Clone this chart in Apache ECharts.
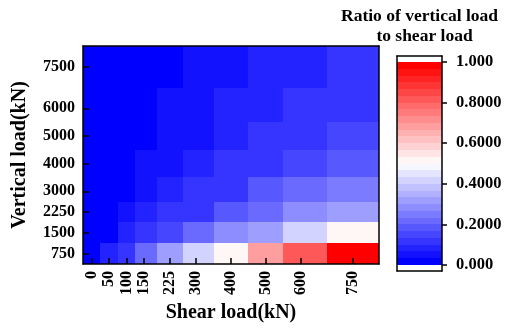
<!DOCTYPE html>
<html>
<head>
<meta charset="utf-8">
<script src="https://cdn.jsdelivr.net/npm/echarts@6/dist/echarts.min.js"></script>
<style>
html,body{margin:0;padding:0;background:#fff;}
#chart{width:514px;height:328px;}
</style>
</head>
<body>
<div id="chart"></div>
<script>
// ---- data ----
const shearLoads = [0, 50, 100, 150, 225, 300, 400, 500, 600, 750];
const verticalLoads = [750, 1500, 2250, 3000, 4000, 5000, 6000, 7500];
// one row per vertical load (bottom to top), one value per shear load
const ratio750  = [0.000, 0.067, 0.133, 0.200, 0.300, 0.400, 0.533, 0.667, 0.800, 1.000];
const ratio1500 = [0.000, 0.033, 0.067, 0.100, 0.150, 0.200, 0.267, 0.333, 0.400, 0.500];
const ratio2250 = [0.000, 0.022, 0.044, 0.067, 0.100, 0.133, 0.178, 0.222, 0.267, 0.333];
const ratio3000 = [0.000, 0.017, 0.033, 0.050, 0.075, 0.100, 0.133, 0.167, 0.200, 0.250];
const ratio4000 = [0.000, 0.013, 0.025, 0.038, 0.056, 0.075, 0.100, 0.125, 0.150, 0.188];
const ratio5000 = [0.000, 0.010, 0.020, 0.030, 0.045, 0.060, 0.080, 0.100, 0.120, 0.150];
const ratio6000 = [0.000, 0.008, 0.017, 0.025, 0.038, 0.050, 0.067, 0.083, 0.100, 0.125];
const ratio7500 = [0.000, 0.007, 0.013, 0.020, 0.030, 0.040, 0.053, 0.067, 0.080, 0.100];
const ratioRows = [ratio750, ratio1500, ratio2250, ratio3000, ratio4000, ratio5000, ratio6000, ratio7500];
const xTickLabels = ['0', '50', '100', '150', '225', '300', '400', '500', '600', '750'];
const yTickLabels = ['750', '1500', '2250', '3000', '4000', '5000', '6000', '7500'];
const colorbarTicks = [0, 0.2, 0.4, 0.6, 0.8, 1.0];
const colorbarLabels = ['0.000', '0.2000', '0.4000', '0.6000', '0.8000', '1.000'];
const levelCount = 30;

// ---- helpers ----
function edges(c) {
  const e = [c[0] - (c[1] - c[0]) / 2];
  for (let i = 0; i < c.length - 1; i++) e.push((c[i] + c[i + 1]) / 2);
  e.push(c[c.length - 1] + (c[c.length - 1] - c[c.length - 2]) / 2);
  return e;
}
function labelFor(values, labels) {
  return function (v) {
    for (let k = 0; k < values.length; k++) if (Math.abs(values[k] - v) < 1e-6) return labels[k];
    return '';
  };
}
const palette = [];
for (let i = 0; i < levelCount; i++) {
  const t = i / (levelCount - 1);
  let r, g, b;
  if (t <= 0.5) { const c = Math.round(510 * t); r = c; g = c; b = 255; }
  else { const c = Math.round(510 * (1 - t)); r = 255; g = c; b = c; }
  palette.push('rgb(' + r + ',' + g + ',' + b + ')');
}
function colorFor(v) {
  const idx = Math.max(0, Math.min(levelCount - 1, Math.floor(v * levelCount + 1e-9)));
  return palette[idx];
}
const xe = edges(shearLoads);
const ye = edges(verticalLoads);
const cells = [];
for (let j = 0; j < verticalLoads.length; j++) {
  for (let i = 0; i < shearLoads.length; i++) {
    cells.push([xe[i], xe[i + 1], ye[j], ye[j + 1], ratioRows[j][i]]);
  }
}
const bands = [];
for (let i = 0; i < levelCount; i++) bands.push([0, 1, i / levelCount, (i + 1) / levelCount, (i + 0.5) / levelCount]);

const FONT = '"Liberation Serif", "Times New Roman", serif';
const black = '#000';
function rectItem(params, api) {
  const p0 = api.coord([api.value(0), api.value(3)]);
  const p1 = api.coord([api.value(1), api.value(2)]);
  const x0 = Math.round(p0[0]), y0 = Math.round(p0[1]);
  const x1 = Math.round(p1[0]), y1 = Math.round(p1[1]);
  return {
    type: 'rect',
    shape: { x: x0, y: y0, width: x1 - x0, height: y1 - y0 },
    style: { fill: colorFor(api.value(4)) }
  };
}
const lineOnly = {
  axisLine: { show: true, onZero: false, lineStyle: { color: black, width: 1.5 } },
  axisTick: { show: false }, axisLabel: { show: false }, splitLine: { show: false }, z: 5
};
const cbMargin = 6 / 203;

const chart = echarts.init(document.getElementById('chart'), null, { renderer: 'canvas' });
chart.setOption({
  animation: false,
  backgroundColor: '#fff',
  grid: [
    { left: 83, top: 46, width: 296, height: 225 },
    { left: 397, top: 56, width: 45, height: 215 }
  ],
  xAxis: [
    {
      gridIndex: 0, type: 'value', min: xe[0], max: xe[xe.length - 1], position: 'bottom', z: 5,
      axisLine: { show: true, onZero: false, lineStyle: { color: black, width: 1.5 } },
      axisTick: { show: true, inside: true, length: 6, customValues: shearLoads, lineStyle: { color: black, width: 1.5 } },
      axisLabel: { customValues: shearLoads, formatter: labelFor(shearLoads, xTickLabels), rotate: 90, margin: 7, fontSize: 16, fontWeight: 'bold', fontFamily: FONT, color: black },
      splitLine: { show: false },
      name: 'Shear load(kN)', nameLocation: 'middle', nameGap: 39,
      nameTextStyle: { fontSize: 20, fontWeight: 'bold', fontFamily: FONT, color: black }
    },
    Object.assign({ gridIndex: 0, type: 'value', min: xe[0], max: xe[xe.length - 1], position: 'top' }, lineOnly),
    Object.assign({ gridIndex: 1, type: 'value', min: 0, max: 1, position: 'bottom' }, lineOnly),
    Object.assign({ gridIndex: 1, type: 'value', min: 0, max: 1, position: 'top' }, lineOnly)
  ],
  yAxis: [
    {
      gridIndex: 0, type: 'value', min: ye[0], max: ye[ye.length - 1], position: 'left', z: 5,
      axisLine: { show: true, onZero: false, lineStyle: { color: black, width: 1.5 } },
      axisTick: { show: true, inside: true, length: 6, customValues: verticalLoads, lineStyle: { color: black, width: 1.5 } },
      axisLabel: { customValues: verticalLoads, formatter: labelFor(verticalLoads, yTickLabels), margin: 8, fontSize: 16, fontWeight: 'bold', fontFamily: FONT, color: black },
      splitLine: { show: false },
      name: 'Vertical load(kN)', nameLocation: 'middle', nameGap: 53,
      nameTextStyle: { fontSize: 20, fontWeight: 'bold', fontFamily: FONT, color: black }
    },
    Object.assign({ gridIndex: 0, type: 'value', min: ye[0], max: ye[ye.length - 1], position: 'right' }, lineOnly),
    Object.assign({ gridIndex: 1, type: 'value', min: -cbMargin, max: 1 + cbMargin, position: 'left' }, lineOnly),
    {
      gridIndex: 1, type: 'value', min: -cbMargin, max: 1 + cbMargin, position: 'right', z: 5,
      axisLine: { show: true, onZero: false, lineStyle: { color: black, width: 1.5 } },
      axisTick: { show: true, inside: false, length: 5, customValues: colorbarTicks, lineStyle: { color: black, width: 1.5 } },
      axisLabel: {
        customValues: colorbarTicks, formatter: labelFor(colorbarTicks, colorbarLabels),
        margin: 14, fontSize: 16.5, fontWeight: 'bold', fontFamily: FONT, color: black
      },
      splitLine: { show: false }
    }
  ],
  graphic: [
    { type: 'text', x: 419.5, y: 7, style: { text: 'Ratio of vertical load', textAlign: 'center', textVerticalAlign: 'top', fontSize: 17.5, fontWeight: 'bold', fontFamily: FONT, fill: black } },
    { type: 'text', x: 424.5, y: 27, style: { text: 'to shear load', textAlign: 'center', textVerticalAlign: 'top', fontSize: 17.5, fontWeight: 'bold', fontFamily: FONT, fill: black } }
  ],
  series: [
    {
      type: 'custom', xAxisIndex: 0, yAxisIndex: 0, renderItem: rectItem,
      encode: { x: [0, 1], y: [2, 3] }, data: cells, z: 2
    },
    {
      type: 'custom', xAxisIndex: 2, yAxisIndex: 2, renderItem: rectItem,
      encode: { x: [0, 1], y: [2, 3] }, data: bands, z: 2
    }
  ]
});
</script>
</body>
</html>
